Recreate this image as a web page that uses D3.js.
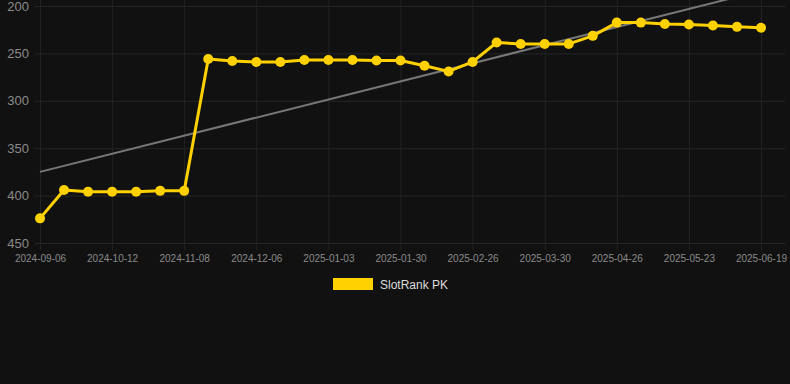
<!DOCTYPE html>
<html>
<head>
<meta charset="utf-8">
<script src="https://cdn.jsdelivr.net/npm/d3@7"></script>
<style>
  body { margin: 0; background: #111111; }
  svg { display: block; font-family: "Liberation Sans", Arial, sans-serif; }
</style>
</head>
<body>
<div id="chart"></div>
<script>
// dates on the category axis (every third one is labelled)
const dates = [
  '2024-09-06', '2024-09-18', '2024-09-30', '2024-10-12', '2024-10-21', '2024-10-30',
  '2024-11-08', '2024-11-17', '2024-11-27', '2024-12-06', '2024-12-15', '2024-12-24',
  '2025-01-03', '2025-01-12', '2025-01-21', '2025-01-30', '2025-02-08', '2025-02-17',
  '2025-02-26', '2025-03-08', '2025-03-19', '2025-03-30', '2025-04-08', '2025-04-17',
  '2025-04-26', '2025-05-05', '2025-05-14', '2025-05-23', '2025-06-01', '2025-06-10',
  '2025-06-19'
];
const rankValues = [
  424, 394, 396, 396, 396, 395, 395, 256, 258, 259, 259, 257,
  257, 257, 257.5, 257.5, 263, 269, 259, 238.5, 240, 240, 240, 231.5,
  217.5, 217.5, 219, 219.5, 220.5, 222, 223
];
// trend line end values
const trendValues = [375, 184];
const yTicks = [200, 250, 300, 350, 400, 450];
const seriesName = 'SlotRank PK';

const svgWidth = 790;
const svgHeight = 384;
const gold = '#ffd100';

const svg = d3.select('#chart')
  .append('svg')
  .attr('width', svgWidth)
  .attr('height', svgHeight);

svg.append('rect')
  .attr('width', svgWidth)
  .attr('height', svgHeight)
  .attr('fill', '#111111');

const x = d3.scalePoint().domain(dates).range([40, 761]);
const y = d3.scaleLinear().domain([200, 450]).range([6, 243]);

svg.append('defs').append('clipPath').attr('id', 'plot-clip')
  .append('rect').attr('x', 0).attr('y', 0).attr('width', svgWidth).attr('height', 243);

// horizontal grid + y labels
const yAxis = svg.append('g').attr('transform', 'translate(35,0)')
  .call(d3.axisLeft(y).tickValues(yTicks).tickSize(0).tickPadding(6));
yAxis.select('.domain').remove();
yAxis.selectAll('text').attr('fill', '#8a8a8a').style('font-size', '13px');
yAxis.selectAll('.tick line')
  .attr('x1', 0).attr('x2', 750)
  .attr('stroke', '#262626');

// vertical grid + x labels
const labelled = dates.filter((d, i) => i % 3 === 0);
const xAxis = svg.append('g').attr('transform', 'translate(0,250)')
  .call(d3.axisBottom(x).tickValues(labelled).tickSize(0).tickPadding(5));
xAxis.select('.domain').remove();
xAxis.selectAll('.tick line')
  .attr('y1', -250).attr('y2', 0)
  .attr('stroke', '#232323');
xAxis.selectAll('text').attr('fill', '#8a8a8a').style('font-size', '10px');

// trend line
svg.append('line')
  .attr('clip-path', 'url(#plot-clip)')
  .attr('x1', x(dates[0])).attr('y1', y(trendValues[0]))
  .attr('x2', x(dates[dates.length - 1])).attr('y2', y(trendValues[1]))
  .attr('stroke', '#777777')
  .attr('stroke-width', 2);

// series
const line = d3.line()
  .x((d, i) => x(dates[i]))
  .y(d => y(d));

svg.append('path')
  .datum(rankValues)
  .attr('d', line)
  .attr('fill', 'none')
  .attr('stroke', gold)
  .attr('stroke-width', 3)
  .attr('stroke-linejoin', 'round');

svg.selectAll('.pt')
  .data(rankValues)
  .join('circle')
  .classed('pt', true)
  .attr('cx', (d, i) => x(dates[i]))
  .attr('cy', d => y(d))
  .attr('r', 5)
  .attr('fill', gold);

// legend
const legend = svg.append('g').attr('transform', 'translate(333,278)');
legend.append('rect').attr('width', 40).attr('height', 12).attr('fill', gold);
legend.append('text')
  .attr('x', 47).attr('y', 10.5)
  .attr('fill', '#dddddd')
  .style('font-size', '12px')
  .text(seriesName);
</script>
</body>
</html>
